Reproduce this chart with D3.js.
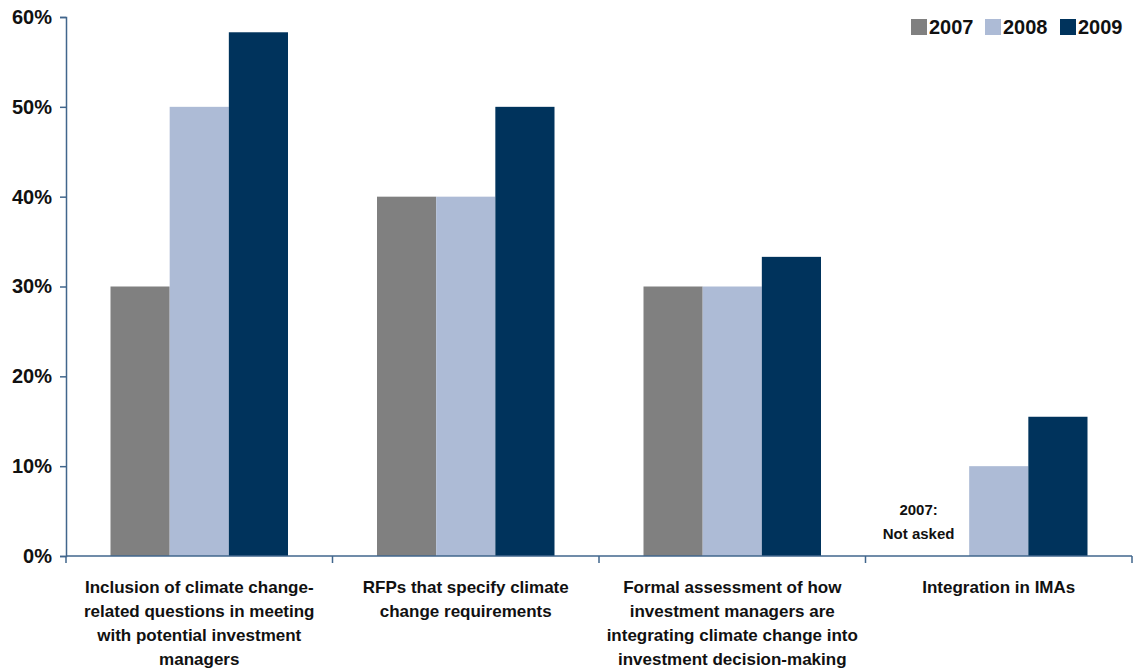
<!DOCTYPE html>
<html>
<head>
<meta charset="utf-8">
<script src="https://cdn.jsdelivr.net/npm/d3@7"></script>
<style>
  body { margin: 0; background: #fff; }
  svg text { fill: #111; }
</style>
</head>
<body>
<div id="chart"></div>
<script>
var categories = [
  ["Inclusion of climate change-", "related questions in meeting", "with potential investment", "managers"],
  ["RFPs that specify climate", "change requirements"],
  ["Formal assessment of how", "investment managers are", "integrating climate change into", "investment decision-making"],
  ["Integration in IMAs"]
];
var years = ["2007", "2008", "2009"];
var v2007 = [30, 40, 30, null];
var v2008 = [50, 40, 30, 10];
var v2009 = [58.3, 50, 33.3, 15.5];
var yTicks = [0, 10, 20, 30, 40, 50, 60];
var colors = ["#808080", "#adbbd6", "#00335c"];

var width = 1133, height = 672;
var margin = { top: 17, right: 1, bottom: 116, left: 66 };
var w = width - margin.left - margin.right;
var h = height - margin.top - margin.bottom;

var svg = d3.select("#chart").append("svg")
    .attr("width", width)
    .attr("height", height)
  .append("g")
    .attr("transform", "translate(" + margin.left + "," + margin.top + ")");

var x0 = d3.scaleBand()
    .domain(d3.range(categories.length))
    .range([0, w])
    .paddingInner(0)
    .paddingOuter(0);

var x1 = d3.scaleBand()
    .domain(years)
    .range([44.5, x0.bandwidth() - 44.5]);

var y = d3.scaleLinear()
    .domain([0, 60])
    .range([h, 0]);

var series = [v2007, v2008, v2009];
var data = [];
categories.forEach(function (c, i) {
  years.forEach(function (yr, j) {
    if (series[j][i] != null) data.push({ cat: i, year: yr, value: series[j][i], color: colors[j] });
  });
});

svg.selectAll("rect.bar")
  .data(data)
  .enter().append("rect")
    .attr("class", "bar")
    .attr("x", function (d) { return x0(d.cat) + x1(d.year); })
    .attr("width", x1.bandwidth())
    .attr("y", function (d) { return y(d.value); })
    .attr("height", function (d) { return h - y(d.value); })
    .attr("fill", function (d) { return d.color; });

var axisColor = "#41668c";

// y axis
var yAxis = svg.append("g")
    .call(d3.axisLeft(y).tickValues(yTicks).tickFormat(function (d) { return d + "%"; }).tickSize(6).tickPadding(8));
yAxis.select(".domain").attr("stroke", axisColor).attr("stroke-width", 1.5);
yAxis.selectAll(".tick line").attr("stroke", axisColor).attr("stroke-width", 1.5);
yAxis.selectAll(".tick text")
    .style("font-family", "Liberation Sans, Arial, sans-serif")
    .style("font-size", "20px")
    .style("font-weight", "bold")
    .attr("fill", "#111");

// x axis baseline and separators
var xAxis = svg.append("g").attr("transform", "translate(0," + h + ")");
xAxis.append("line")
    .attr("x1", 0).attr("x2", w)
    .attr("stroke", axisColor).attr("stroke-width", 1.5);
xAxis.selectAll("line.sep")
  .data(d3.range(categories.length + 1))
  .enter().append("line")
    .attr("class", "sep")
    .attr("x1", function (d) { return d === categories.length ? w : x0(d); })
    .attr("x2", function (d) { return d === categories.length ? w : x0(d); })
    .attr("y1", 0).attr("y2", 7)
    .attr("stroke", axisColor).attr("stroke-width", 1.5);

// category labels
var labelFont = "'Liberation Sans Narrow', 'Arial Narrow', sans-serif";
xAxis.selectAll("text.cat")
  .data(categories)
  .enter().append("text")
    .attr("class", "cat")
    .attr("text-anchor", "middle")
    .attr("transform", function (d, i) { return "translate(" + (x0(i) + x0.bandwidth() / 2) + ",37)"; })
    .style("font-family", labelFont)
    .style("font-size", "17px")
    .style("font-weight", "bold")
    .selectAll("tspan")
    .data(function (d) { return d; })
    .enter().append("tspan")
      .attr("x", 0)
      .attr("dy", function (d, i) { return i === 0 ? 0 : 24; })
      .text(function (d) { return d; });

// note for 2007 missing
var note = svg.append("text")
    .attr("text-anchor", "middle")
    .attr("transform", "translate(" + (x0(3) + x1("2007") + x1.bandwidth() / 2 - 21) + "," + (y(0) - 41) + ")")
    .style("font-family", labelFont)
    .style("font-size", "15px")
    .style("font-weight", "bold");
note.append("tspan").attr("x", 0).attr("dy", 0).text("2007:");
note.append("tspan").attr("x", 0).attr("dy", 24).text("Not asked");

// legend
var legend = svg.append("g").attr("transform", "translate(" + (911 - margin.left) + "," + (19 - margin.top) + ")");
var legendX = [0, 74, 149];
years.forEach(function (yr, j) {
  var g = legend.append("g").attr("transform", "translate(" + legendX[j] + ",0)");
  g.append("rect").attr("width", 16).attr("height", 16).attr("fill", colors[j]);
  g.append("text")
      .attr("x", 18).attr("y", 15)
      .style("font-family", "Liberation Sans, Arial, sans-serif")
      .style("font-size", "20px")
      .style("font-weight", "bold")
      .text(yr);
});
</script>
</body>
</html>
